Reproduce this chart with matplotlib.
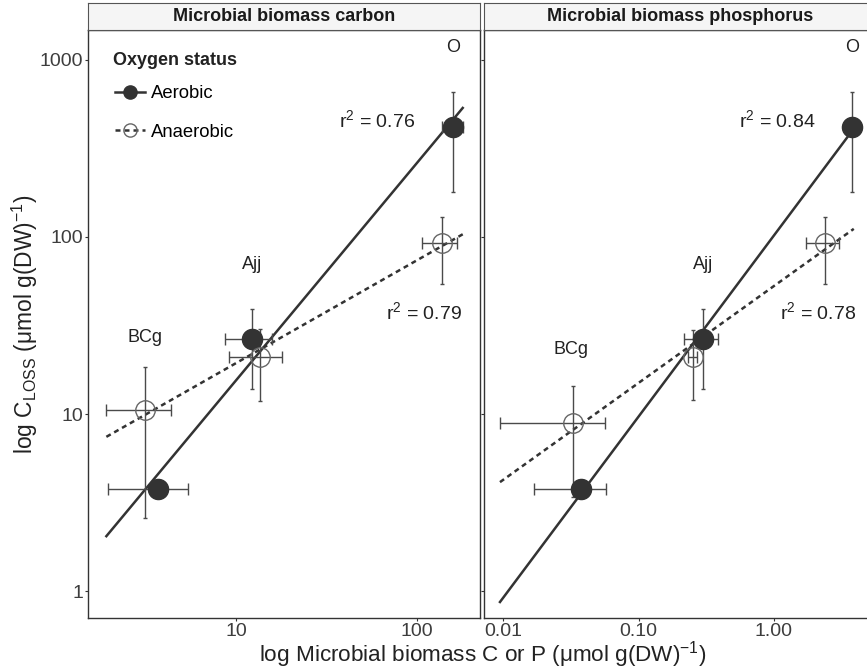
import numpy as np
import matplotlib.pyplot as plt
from matplotlib.lines import Line2D

plt.rcParams['font.family'] = ['Liberation Sans', 'DejaVu Sans']
plt.rcParams['mathtext.fontset'] = 'custom'
plt.rcParams['mathtext.rm'] = 'Liberation Sans'
plt.rcParams['mathtext.it'] = 'Liberation Sans:italic'

sites = ["BCg", "Ajj", "O"]

# microbial biomass carbon panel (mean, sd)
c_aer_x = [3.7, 12.3, 158]
c_aer_xsd = [1.75, 3.6, 21]
c_aer_y = [3.77, 26.5, 420]
c_aer_ysd = [0.3, 12.6, 240]
c_ana_x = [3.15, 13.5, 137]
c_ana_xsd = [1.23, 4.4, 30]
c_ana_y = [10.5, 21.0, 92]
c_ana_ysd = [7.9, 9.2, 38]

# microbial biomass phosphorus panel (mean, sd)
p_aer_x = [0.0375, 0.30, 3.78]
p_aer_xsd = [0.0205, 0.083, 0.1]
p_aer_y = [3.77, 26.5, 420]
p_aer_ysd = [0.3, 12.6, 240]
p_ana_x = [0.033, 0.251, 2.38]
p_ana_xsd = [0.0235, 0.02, 0.65]
p_ana_y = [8.9, 21.0, 92]
p_ana_ysd = [5.5, 9.0, 38]

r2_c = ["0.76", "0.79"]
r2_p = ["0.84", "0.78"]

panels = [
    dict(title="Microbial biomass carbon",
         aer=(c_aer_x, c_aer_xsd, c_aer_y, c_aer_ysd),
         ana=(c_ana_x, c_ana_xsd, c_ana_y, c_ana_ysd),
         r2=r2_c, xlim=(1.52, 223), xticks=[10, 100], xlabels=["10", "100"],
         site_pos=[(3.13, 26.9), (12.3, 69.5), (158, 1169)],
         r2_pos=[(60, 458), (109, 37.7)]),
    dict(title="Microbial biomass phosphorus",
         aer=(p_aer_x, p_aer_xsd, p_aer_y, p_aer_ysd),
         ana=(p_ana_x, p_ana_xsd, p_ana_y, p_ana_ysd),
         r2=r2_p, xlim=(0.00724, 5.66), xticks=[0.01, 0.1, 1.0],
         xlabels=["0.01", "0.10", "1.00"],
         site_pos=[(0.0318, 23.0), (0.30, 69.5), (3.78, 1169)],
         r2_pos=[(1.05, 458), (2.11, 37.4)]),
]

W, H = 867, 671
fig = plt.figure(figsize=(W / 100, H / 100), dpi=100)

dark = '#333333'
ebar = '#4a4a4a'
lefts = [88, 484]
axes = []
for i, p in enumerate(panels):
    left = lefts[i]
    ax = fig.add_axes([left / W, (H - 618) / H, 392 / W, 588 / H])
    axes.append(ax)
    ax.set_xscale('log')
    ax.set_yscale('log')
    ax.set_xlim(*p['xlim'])
    ax.set_ylim(0.704, 1477)

    # fitted lines on log scale over the panel's error-bar range
    allx = np.concatenate([np.array(p['aer'][0]) - np.array(p['aer'][1]),
                           np.array(p['ana'][0]) - np.array(p['ana'][1])])
    allx_hi = np.concatenate([np.array(p['aer'][0]) + np.array(p['aer'][1]),
                              np.array(p['ana'][0]) + np.array(p['ana'][1])])
    xs = np.logspace(np.log10(allx.min()), np.log10(allx_hi.max()), 50)
    for key, ls in [('aer', '-'), ('ana', (0, (2, 1.6)))]:
        x, xsd, y, ysd = p[key]
        k, b = np.polyfit(np.log10(x), np.log10(y), 1)
        ax.plot(xs, 10 ** (b + k * np.log10(xs)), color=dark, lw=1.8,
                linestyle=ls, zorder=2)

    for key in ['aer', 'ana']:
        x, xsd, y, ysd = p[key]
        ax.errorbar(x, y, yerr=ysd, fmt='none', ecolor=ebar, elinewidth=1.0,
                    capsize=1.5, capthick=1.0, zorder=3)
        ax.errorbar(x, y, xerr=xsd, fmt='none', ecolor=ebar, elinewidth=1.0,
                    capsize=4.3, capthick=1.0, zorder=3)

    ax.plot(p['aer'][0], p['aer'][2], 'o', ms=14.5, color=dark, mec=dark,
            linestyle='none', zorder=4)
    ax.plot(p['ana'][0], p['ana'][2], 'o', ms=14, mfc='none', mec='#666666',
            mew=1.0, linestyle='none', zorder=4)

    for s, (sx, sy) in zip(sites, p['site_pos']):
        ax.text(sx, sy, s, ha='center', va='center', fontsize=13, color='#222222')
    for r, (rx, ry) in zip(p['r2'], p['r2_pos']):
        ax.text(rx, ry, r'r$^{2}$ = ' + r, ha='center', va='center',
                fontsize=14, color='#222222')

    ax.set_xticks(p['xticks'])
    ax.set_xticklabels(p['xlabels'])
    ax.xaxis.set_minor_locator(plt.NullLocator())
    ax.yaxis.set_minor_locator(plt.NullLocator())
    ax.set_yticks([1, 10, 100, 1000])
    if i == 0:
        ax.set_yticklabels(["1", "10", "100", "1000"])
    else:
        ax.set_yticklabels([])
    ax.tick_params(length=2, width=0.8, color=dark, labelsize=14,
                   labelcolor='#3d3d3d', pad=1.5)
    for sp in ax.spines.values():
        sp.set_color(dark)
        sp.set_linewidth(1.0)

    # facet strip
    sax = fig.add_axes([left / W, (H - 30) / H, 392 / W, 27 / H])
    sax.set_facecolor('#f5f5f5')
    sax.set_xticks([])
    sax.set_yticks([])
    for sp in sax.spines.values():
        sp.set_color('#555555')
        sp.set_linewidth(0.8)
    sax.text(0.5, 0.5, p['title'], ha='center', va='center', fontsize=13,
             fontweight='bold', color='#1a1a1a', transform=sax.transAxes)

handles = [
    Line2D([], [], color=dark, lw=1.8, marker='o', ms=9.5, mfc=dark, mec=dark),
    Line2D([], [], color=dark, lw=1.8, linestyle=(0, (2, 1.6)), marker='o',
           ms=9.5, mfc='none', mec='#666666', mew=1.0),
]
axes[0].text(0.064, 0.948, "Oxygen status", transform=axes[0].transAxes,
             ha='left', va='center', fontsize=13, fontweight='bold',
             color='#222222')
axes[0].legend(handles, ["Aerobic", "Anaerobic"], loc='upper left',
               bbox_to_anchor=(0.027, 0.934), frameon=False, fontsize=13.3,
               handlelength=1.6, handletextpad=0.35, labelspacing=1.15)

fig.text(25 / W, 1 - 324 / H, r'log C$_{\mathregular{LOSS}}$ ($\mathregular{\mu}$mol g(DW)$^{-1}$)',
         rotation=90, ha='center', va='center', fontsize=16.4, color='#222222')
fig.text(483 / W, 1 - 662 / H, r'log Microbial biomass C or P ($\mathregular{\mu}$mol g(DW)$^{-1}$)',
         ha='center', va='baseline', fontsize=16.2, color='#222222')

fig.savefig('out.png', dpi=100, facecolor='white')
